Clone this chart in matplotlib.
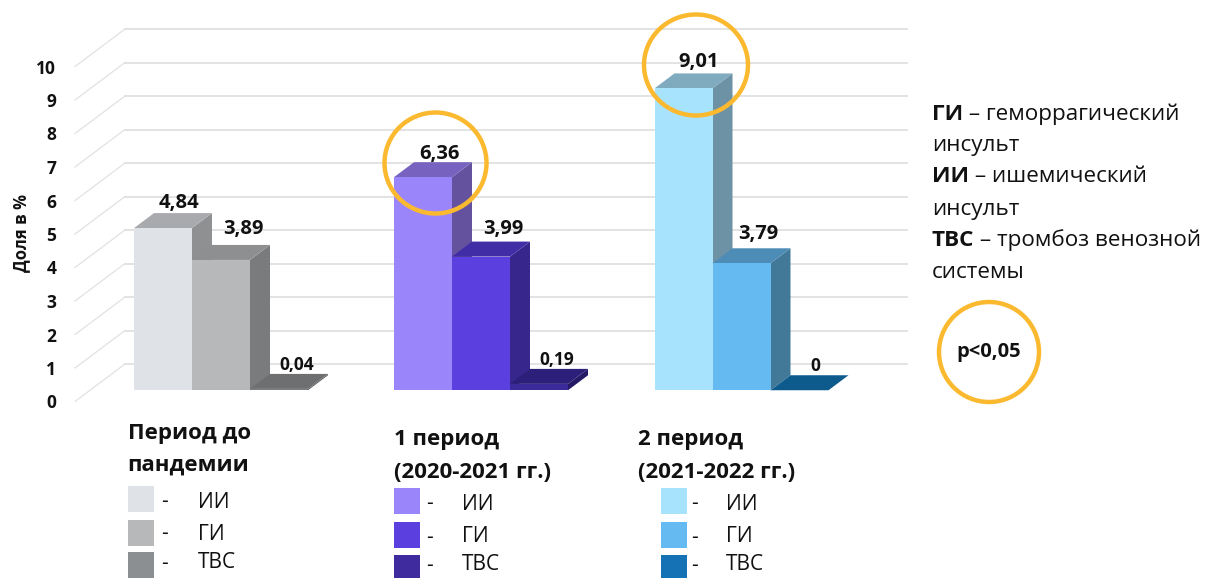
import matplotlib
matplotlib.use("Agg")
import matplotlib.pyplot as plt
from matplotlib.patches import Ellipse, Rectangle

FONT = ["Open Sans", "Noto Sans", "DejaVu Sans"]
plt.rcParams["font.family"] = FONT

# Share of cases, %, per period and stroke type
periods = ["Период до\nпандемии", "1 период\n(2020-2021 гг.)", "2 период\n(2021-2022 гг.)"]
stroke_types = ["ИИ", "ГИ", "ТВС"]
values = [[4.84, 3.89, 0.04], [6.36, 3.99, 0.19], [9.01, 3.79, 0.0]]
value_labels = [["4,84", "3,89", "0,04"], ["6,36", "3,99", "0,19"], ["9,01", "3,79", "0"]]
y_ticks = [0, 1, 2, 3, 4, 5, 6, 7, 8, 9, 10]
y_title = "Доля в %"

front_colors = [["#dfe2e7", "#b7b8ba", "#7d7e80"],
                ["#9b85fb", "#5b3fdf", "#3a2a9a"],
                ["#a8e3fe", "#66baf2", "#11679f"]]
top_colors = [["#a9aaad", "#8e8f91", "#6e6f71"],
              ["#7763bf", "#412ea6", "#2c1f7a"],
              ["#80abbf", "#4c8cb6", "#0d5a8c"]]
side_colors = [["#8f9092", "#7a7b7d", "#5f6062"],
               ["#64529f", "#37278c", "#241a66"],
               ["#6d92a5", "#427898", "#0b4d78"]]
swatch_colors = [["#dfe2e7", "#b7b8ba", "#8c8f92"],
                 ["#9b85fb", "#5b3fdf", "#3f2a9e"],
                 ["#a8e3fe", "#66baf2", "#1573b5"]]

W, H = 1205, 578
UNIT = 33.5        # pixels per percentage point
ZERO = 401.5       # pixel row of the value 0 on the front edge of the floor
DEPTH_X, DEPTH_Y = 50, 37.5 / UNIT   # oblique projection of the floor depth
BAR_NEAR, BAR_FAR = 0.3, 0.7         # where bars stand within the floor depth
BAR_W = 58
group_left = [119, 379, 639.5]
GRID_RIGHT = 907
# Label anchors (column, row) above each bar
label_pos = [[(179, 203), (243, 229), (297, 365)],
             [(439, 154), (503, 229), (557, 360)],
             [(699, 62), (758, 234), (815, 366)]]


def row(px):
    return (ZERO - px) / UNIT


def proj(x, v, d):
    return x + DEPTH_X * d, v + DEPTH_Y * d


fig = plt.figure(figsize=(W / 100, H / 100), dpi=100)
ax = fig.add_axes([0, 0, 1, 1])
ax.set_xlim(0, W)
ax.set_ylim(row(H), row(0))
for s in ax.spines.values():
    s.set_visible(False)
ax.xaxis.set_visible(False)
ax.set_yticks(y_ticks)
ax.set_yticklabels([str(t) for t in y_ticks], fontsize=12.5, fontweight="bold", color="#111111")
ax.tick_params(axis="y", length=0, direction="in", pad=-40.5)

# Floor and wall gridlines
for t in y_ticks:
    a = proj(75, t, 0)
    b = proj(75, t, 1)
    ax.plot([a[0], b[0]], [a[1], b[1]], color="#e2e2e2", lw=0.9, zorder=1)
    ax.plot([b[0], GRID_RIGHT], [b[1], b[1]], color="#e0e0e0", lw=1.3, zorder=1)

# Oblique bars, left to right so each one overlaps its neighbour's side face
for g, left in enumerate(group_left):
    for i, v in enumerate(values[g]):
        x0 = left + i * BAR_W
        x1 = x0 + BAR_W
        fx0, fb = proj(x0, 0.0, BAR_NEAR)
        fx1, ft = proj(x1, v, BAR_NEAR)
        bx0, bb = proj(x0, 0.0, BAR_FAR)
        bx1, bt = proj(x1, v, BAR_FAR)
        ax.fill([fx1, bx1, bx1, fx1], [fb, bb, bt, ft], color=side_colors[g][i], lw=0, zorder=3)
        ax.fill([fx0, fx1, bx1, bx0], [ft, ft, bt, bt], color=top_colors[g][i], lw=0, zorder=3)
        ax.fill([fx0, fx1, fx1, fx0], [fb, fb, ft, ft], color=front_colors[g][i], lw=0, zorder=3)
        size = 14.5 if v > 1 else 12.5
        lx, ly = label_pos[g][i]
        ax.text(lx, row(ly), value_labels[g][i], ha="center", va="center",
                fontsize=size, fontweight="bold", color="#111111", zorder=5)

ax.text(21, row(233), y_title, rotation=90, ha="center", va="center",
        fontsize=12, fontweight="bold", color="#111111")

# Highlight circles
GOLD = "#fbb92f"
for cx, cy, rx, ry in [(435.5, 163, 51, 50.5), (696, 65, 52, 50.5), (989, 352, 50, 50)]:
    ax.add_patch(Ellipse((cx, row(cy)), 2 * rx, 2 * ry / UNIT, fill=False,
                         ec=GOLD, lw=3.2, zorder=6))
ax.text(989, row(352), "p<0,05", ha="center", va="center", fontsize=14.5,
        fontweight="bold", color="#111111", zorder=7)

# Abbreviation key on the right
key = [[("ГИ", True), (" – геморрагический", False)],
       [("инсульт", False)],
       [("ИИ", True), (" – ишемический", False)],
       [("инсульт", False)],
       [("ТВС", True), (" – тромбоз венозной", False)],
       [("системы", False)]]
key_rows = [114, 146, 177, 209, 240, 272]
renderer = fig.canvas.get_renderer()
for parts, yp in zip(key, key_rows):
    x = 932
    for txt, bold in parts:
        t = ax.text(x, row(yp), txt, ha="left", va="center", fontsize=16.2,
                    fontweight="bold" if bold else "normal", color="#111111")
        x += t.get_window_extent(renderer).width

# Per-period colour legends
legend_x = [127.5, 393.5, 661]
text_x = [127.5, 394, 638]
title_rows = [(433, 465), (440, 472), (440, 472)]
swatch_rows = [(486, 520, 552), (488, 522, 555), (488, 522, 555)]
text_rows = [(502, 534, 563), (504, 537, 565), (504, 537, 565)]
dash_offset = [(37, 70), (36, 68), (33, 65)]
for g, name in enumerate(periods):
    for line, yp in zip(name.split("\n"), title_rows[g]):
        ax.text(text_x[g], row(yp), line, ha="left", va="center", fontsize=16,
                fontweight="bold", color="#111111")
    for k, yp in enumerate(swatch_rows[g]):
        ax.add_patch(Rectangle((legend_x[g], row(yp + 26)), 26, 26 / UNIT,
                               color=swatch_colors[g][k], lw=0))
        ty = row(text_rows[g][k])
        ax.text(legend_x[g] + dash_offset[g][0], ty, "-", ha="center", va="center",
                fontsize=15, color="#111111")
        ax.text(legend_x[g] + dash_offset[g][1], ty, stroke_types[k], ha="left",
                va="center", fontsize=15, color="#111111")

fig.savefig("out.png", dpi=100)
